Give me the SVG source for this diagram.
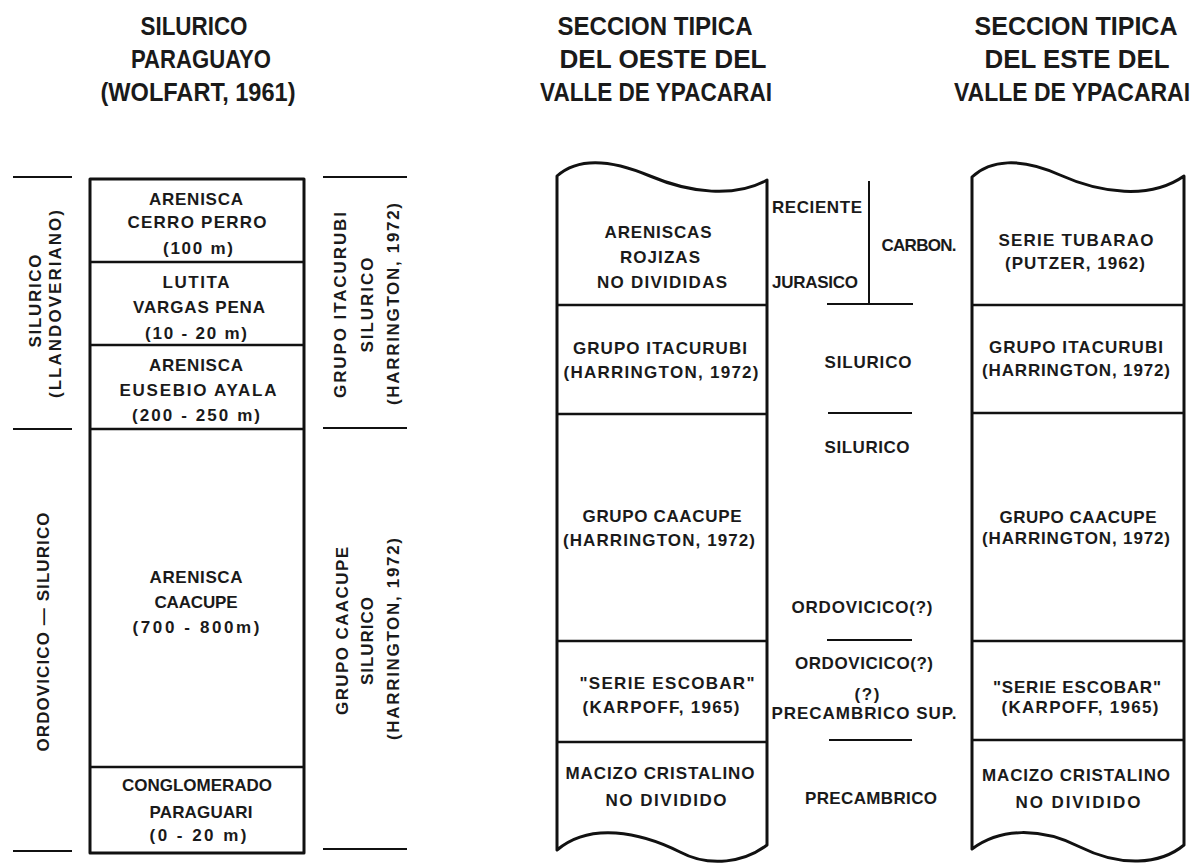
<svg xmlns="http://www.w3.org/2000/svg" width="1197" height="865" viewBox="0 0 1197 865">
<style>
text { font-family: "Liberation Sans", Arial, sans-serif; font-weight: bold; fill: #1a1a1a; text-anchor: middle; }
.b { font-size: 17px; }
.ti { font-size: 25px; }
.box { fill: #fff; stroke: #111; stroke-width: 3; stroke-linejoin: round; }
.div { stroke: #111; stroke-width: 2.6; fill: none; }
.tick { stroke: #111; stroke-width: 2.2; fill: none; }
.ln { stroke: #111; stroke-width: 2; fill: none; }
</style>
<rect width="1197" height="865" fill="#fff"/>

<g id="titles">
  <text class="ti" x="194" y="35" textLength="107" lengthAdjust="spacingAndGlyphs">SILURICO</text>
  <text class="ti" x="201" y="68" textLength="140" lengthAdjust="spacingAndGlyphs">PARAGUAYO</text>
  <text class="ti" x="198" y="101" textLength="195" lengthAdjust="spacingAndGlyphs">(WOLFART, 1961)</text>
  <text class="ti" x="655" y="35" textLength="195" lengthAdjust="spacingAndGlyphs">SECCION  TIPICA</text>
  <text class="ti" x="663" y="68" textLength="207" lengthAdjust="spacingAndGlyphs">DEL  OESTE  DEL</text>
  <text class="ti" x="656" y="101" textLength="232" lengthAdjust="spacingAndGlyphs">VALLE DE YPACARAI</text>
  <text class="ti" x="1076" y="35" textLength="203" lengthAdjust="spacingAndGlyphs">SECCION  TIPICA</text>
  <text class="ti" x="1077" y="68" textLength="185" lengthAdjust="spacingAndGlyphs">DEL  ESTE  DEL</text>
  <text transform="translate(1072,101) scale(1,1.14)" x="0" y="0" style="font-size:22px" textLength="236" lengthAdjust="spacingAndGlyphs">VALLE DE YPACARAI</text>
</g>

<g id="left-age-labels">
  <line class="tick" x1="13" y1="177" x2="72" y2="177"/>
  <line class="tick" x1="13" y1="429" x2="72" y2="429"/>
  <line class="tick" x1="13" y1="851" x2="72" y2="851"/>
  <text class="b" transform="translate(35,301) rotate(-90)" x="0" y="6" textLength="93" lengthAdjust="spacing">SILURICO</text>
  <text class="b" transform="translate(55,304) rotate(-90)" x="0" y="6" textLength="188" lengthAdjust="spacing">(LLANDOVERIANO)</text>
  <text class="b" transform="translate(43,632) rotate(-90)" x="0" y="6" textLength="239" lengthAdjust="spacing">ORDOVICICO — SILURICO</text>
</g>

<g id="col-wolfart">
  <rect class="box" x="90" y="179" width="214" height="674"/>
  <line class="div" x1="90" y1="262" x2="304" y2="262"/>
  <line class="div" x1="90" y1="345" x2="304" y2="345"/>
  <line class="div" x1="90" y1="429" x2="304" y2="429"/>
  <line class="div" x1="90" y1="767" x2="304" y2="767"/>
  <text class="b" x="196" y="205" textLength="94" lengthAdjust="spacing">ARENISCA</text>
  <text class="b" x="197" y="228" textLength="139" lengthAdjust="spacing">CERRO  PERRO</text>
  <text class="b" x="198" y="254" textLength="70" lengthAdjust="spacing">(100 m)</text>
  <text class="b" x="196" y="288" textLength="67" lengthAdjust="spacing">LUTITA</text>
  <text class="b" x="199" y="313" textLength="132" lengthAdjust="spacing">VARGAS  PENA</text>
  <text class="b" x="196" y="339" textLength="102" lengthAdjust="spacing">(10 - 20 m)</text>
  <text class="b" x="196" y="371" textLength="94" lengthAdjust="spacing">ARENISCA</text>
  <text class="b" x="198" y="396" textLength="157" lengthAdjust="spacing">EUSEBIO  AYALA</text>
  <text class="b" x="196" y="421" textLength="128" lengthAdjust="spacing">(200 - 250 m)</text>
  <text class="b" x="196" y="583" textLength="93" lengthAdjust="spacing">ARENISCA</text>
  <text class="b" x="196" y="608" textLength="83" lengthAdjust="spacing">CAACUPE</text>
  <text class="b" x="196" y="633" textLength="127" lengthAdjust="spacing">(700 - 800m)</text>
  <text class="b" x="197" y="791" textLength="150" lengthAdjust="spacing">CONGLOMERADO</text>
  <text class="b" x="201" y="818" textLength="103" lengthAdjust="spacing">PARAGUARI</text>
  <text class="b" x="198" y="841" textLength="97" lengthAdjust="spacing">(0 - 20 m)</text>
</g>

<g id="right-group-labels">
  <line class="tick" x1="323" y1="177" x2="407" y2="177"/>
  <line class="tick" x1="323" y1="428" x2="407" y2="428"/>
  <line class="tick" x1="323" y1="849" x2="407" y2="849"/>
  <text class="b" transform="translate(340,305) rotate(-90)" x="0" y="6" textLength="186" lengthAdjust="spacing">GRUPO  ITACURUBI</text>
  <text class="b" transform="translate(367,305) rotate(-90)" x="0" y="6" textLength="95" lengthAdjust="spacing">SILURICO</text>
  <text class="b" transform="translate(393,304) rotate(-90)" x="0" y="6" textLength="202" lengthAdjust="spacing">(HARRINGTON, 1972)</text>
  <text class="b" transform="translate(342,631) rotate(-90)" x="0" y="6" textLength="168" lengthAdjust="spacing">GRUPO  CAACUPE</text>
  <text class="b" transform="translate(367,641) rotate(-90)" x="0" y="6" textLength="88" lengthAdjust="spacing">SILURICO</text>
  <text class="b" transform="translate(393,639) rotate(-90)" x="0" y="6" textLength="202" lengthAdjust="spacing">(HARRINGTON, 1972)</text>
</g>

<g id="col-oeste">
  <path class="box" d="M557,176 C575,160 605,157 650,176 C690,193 735,198 767,180 L767,845 C745,862 710,868 680,852 C640,832 590,822 557,850 Z"/>
  <line class="div" x1="557" y1="305" x2="767" y2="305"/>
  <line class="div" x1="557" y1="414" x2="767" y2="414"/>
  <line class="div" x1="557" y1="641" x2="767" y2="641"/>
  <line class="div" x1="557" y1="742" x2="767" y2="742"/>
  <text class="b" x="658" y="238" textLength="107" lengthAdjust="spacing">ARENISCAS</text>
  <text class="b" x="660" y="263" textLength="80" lengthAdjust="spacing">ROJIZAS</text>
  <text class="b" x="662" y="288" textLength="130" lengthAdjust="spacing">NO  DIVIDIDAS</text>
  <text class="b" x="660" y="354" textLength="174" lengthAdjust="spacing">GRUPO  ITACURUBI</text>
  <text class="b" x="661" y="378" textLength="195" lengthAdjust="spacing">(HARRINGTON, 1972)</text>
  <text class="b" x="662" y="522" textLength="159" lengthAdjust="spacing">GRUPO  CAACUPE</text>
  <text class="b" x="659" y="546" textLength="192" lengthAdjust="spacing">(HARRINGTON, 1972)</text>
  <text class="b" x="667" y="689" textLength="175" lengthAdjust="spacing">"SERIE  ESCOBAR"</text>
  <text class="b" x="661" y="713" textLength="157" lengthAdjust="spacing">(KARPOFF, 1965)</text>
  <text class="b" x="660" y="779" textLength="189" lengthAdjust="spacing">MACIZO CRISTALINO</text>
  <text class="b" x="666" y="806" textLength="121" lengthAdjust="spacing">NO  DIVIDIDO</text>
</g>

<g id="connectors">
  <line class="ln" x1="869" y1="181" x2="869" y2="304"/>
  <line class="ln" x1="827" y1="304" x2="913" y2="304"/>
  <line class="ln" x1="828" y1="413" x2="912" y2="413"/>
  <line class="ln" x1="827" y1="640" x2="912" y2="640"/>
  <line class="ln" x1="829" y1="740" x2="912" y2="740"/>
</g>

<g id="age-labels-middle">
  <text class="b" x="817" y="213" textLength="90" lengthAdjust="spacing">RECIENTE</text>
  <text class="b" x="919" y="251" textLength="75" lengthAdjust="spacing">CARBON.</text>
  <text class="b" x="815" y="288" textLength="86" lengthAdjust="spacing">JURASICO</text>
  <text class="b" x="868" y="368" textLength="87" lengthAdjust="spacing">SILURICO</text>
  <text class="b" x="867" y="453" textLength="85" lengthAdjust="spacing">SILURICO</text>
  <text class="b" x="862" y="613" textLength="141" lengthAdjust="spacing">ORDOVICICO(?)</text>
  <text class="b" x="864" y="669" textLength="138" lengthAdjust="spacing">ORDOVICICO(?)</text>
  <text class="b" x="867" y="700" textLength="25" lengthAdjust="spacing">(?)</text>
  <text class="b" x="864" y="719" textLength="185" lengthAdjust="spacing">PRECAMBRICO  SUP.</text>
  <text class="b" x="871" y="804" textLength="132" lengthAdjust="spacing">PRECAMBRICO</text>
</g>

<g id="col-este">
  <path class="box" d="M972,177 C990,160 1020,157 1060,175 C1100,193 1150,200 1184,176 L1184,845 C1160,865 1120,867 1080,847 C1040,827 1000,828 972,849 Z"/>
  <line class="div" x1="972" y1="305" x2="1184" y2="305"/>
  <line class="div" x1="972" y1="413" x2="1184" y2="413"/>
  <line class="div" x1="972" y1="641" x2="1184" y2="641"/>
  <line class="div" x1="972" y1="740" x2="1184" y2="740"/>
  <text class="b" x="1076" y="246" textLength="155" lengthAdjust="spacing">SERIE  TUBARAO</text>
  <text class="b" x="1075" y="269" textLength="140" lengthAdjust="spacing">(PUTZER, 1962)</text>
  <text class="b" x="1076" y="353" textLength="174" lengthAdjust="spacing">GRUPO  ITACURUBI</text>
  <text class="b" x="1076" y="376" textLength="188" lengthAdjust="spacing">(HARRINGTON, 1972)</text>
  <text class="b" x="1078" y="523" textLength="157" lengthAdjust="spacing">GRUPO  CAACUPE</text>
  <text class="b" x="1076" y="544" textLength="188" lengthAdjust="spacing">(HARRINGTON, 1972)</text>
  <text class="b" x="1077" y="693" textLength="168" lengthAdjust="spacing">"SERIE  ESCOBAR"</text>
  <text class="b" x="1080" y="713" textLength="157" lengthAdjust="spacing">(KARPOFF, 1965)</text>
  <text class="b" x="1076" y="781" textLength="188" lengthAdjust="spacing">MACIZO CRISTALINO</text>
  <text class="b" x="1078" y="808" textLength="125" lengthAdjust="spacing">NO  DIVIDIDO</text>
</g>
</svg>
